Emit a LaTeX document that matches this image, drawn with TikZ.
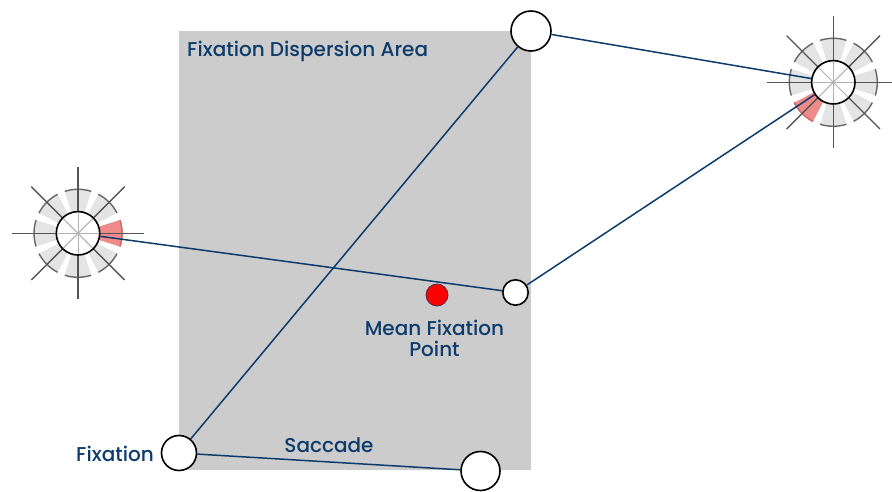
\documentclass[tikz,border=0pt]{standalone}
\usepackage{fontspec}
\setmainfont{Poppins}[UprightFont={* Medium}]
\usetikzlibrary{calc}
\definecolor{navy}{HTML}{0D3B6B}
\definecolor{areagray}{HTML}{CCCCCC}
\definecolor{secfill}{HTML}{E4E4E4}
\definecolor{secedge}{HTML}{666666}
\definecolor{redfill}{HTML}{EE8A8A}
\definecolor{rededge}{HTML}{D86A6A}
\definecolor{glyphline}{HTML}{555555}
\tikzset{
  lbl/.style={text=navy,font=\fontsize{20}{24}\selectfont,inner sep=0pt},
  fix/.style={circle,draw=black,fill=white,line width=1.6pt,inner sep=0pt},
  conn/.style={draw=navy,line width=1.5pt},
  pics/glyph/.style={code={
    \foreach \a in {0,45,...,315}{
      \fill[secfill] (\a-17.5:21.7pt) -- (\a-17.5:44pt) arc[start angle=\a-17.5,end angle=\a+17.5,radius=44pt] -- (\a+17.5:21.7pt) arc[start angle=\a+17.5,end angle=\a-17.5,radius=21.7pt] -- cycle;
      \draw[secedge,line width=1.4pt] (\a-17.5:44pt) arc[start angle=\a-17.5,end angle=\a+17.5,radius=44pt];
    }
    \fill[redfill] (#1-17.5:21.7pt) -- (#1-17.5:44pt) arc[start angle=#1-17.5,end angle=#1+17.5,radius=44pt] -- (#1+17.5:21.7pt) arc[start angle=#1+17.5,end angle=#1-17.5,radius=21.7pt] -- cycle;
    \draw[rededge,line width=1.4pt] (#1-17.5:44pt) arc[start angle=#1-17.5,end angle=#1+17.5,radius=44pt];
    \foreach \a in {0,45,...,315}{
      \draw[glyphline,line width=1.4pt] (\a:21.7pt) -- (\a:66pt);
    }
  }},
  innerline/.style={draw=black!30,line width=1pt}
}
\begin{document}
\begin{tikzpicture}[x=1pt,y=1pt]
\useasboundingbox (0,0) rectangle (892,491);
% dispersion area
\fill[areagray] (179,21) rectangle (531,460);
\node[lbl,anchor=base west] (title) at (187,434) {Fixation Dispersion Area};
% glyphs
\pic at (78,257.7) {glyph=0};
\pic at (833.3,408.7) {glyph=225};
% fixations
\node[fix,minimum size=40pt] (T) at (531,460) {};
\node[fix,minimum size=35pt] (F) at (179,38) {};
\node[fix,minimum size=39pt] (B) at (480.5,20) {};
\node[fix,minimum size=25.4pt] (S) at (515.5,198.5) {};
\node[fix,minimum size=43.4pt] (L) at (78,257.7) {};
\node[fix,minimum size=43.4pt] (R) at (833.3,408.7) {};
\foreach \g in {L,R}{
  \foreach \a in {0,45,...,315}{
    \draw[innerline] (\g.center) -- ($(\g.center)+(\a:20.5pt)$);
  }
}
% mean point
\node[circle,fill=red,draw=navy!70!red,line width=0.8pt,minimum size=22pt,inner sep=0pt] (M) at (437,196) {};
% connectors
\draw[conn] (F) -- (T);
\draw[conn] (F) -- (B);
\draw[conn] (T) -- (R);
\draw[conn] (S) -- (R);
\draw[conn] (L) -- (S);
% labels
\node[lbl,anchor=base] (meanlbl) at (434.5,156) {Mean Fixation};
\node[lbl,anchor=base] (pointlbl) at (434.5,135) {Point};
\node[lbl,anchor=base] (sacc) at (329,39) {Saccade};
\node[lbl,anchor=base east] (fixlbl) at (154,29.3) {Fixation};
\end{tikzpicture}
\end{document}
